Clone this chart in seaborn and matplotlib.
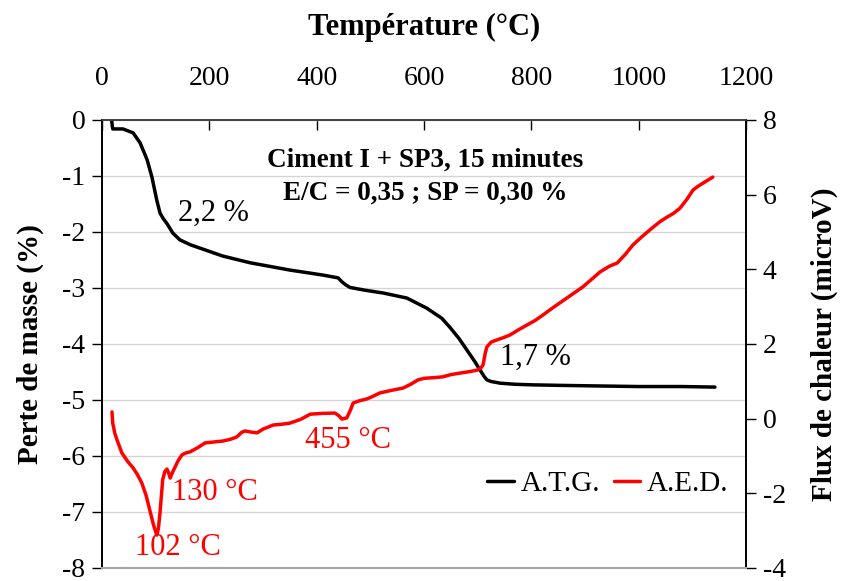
import matplotlib.pyplot as plt
import pandas as pd
import seaborn as sns

# A.T.G. (perte de masse, %)
atg_temp = [18, 19, 20, 39, 58, 71, 84, 93, 102, 108, 114, 121, 132, 145, 165,
            183, 225, 276, 350, 412, 440, 447, 455, 462, 490, 524, 568, 605, 633,
            648, 665, 680, 695, 704, 712, 717, 725, 742, 770, 803, 860, 928, 1000,
            1080, 1142]
atg_mass = [0, -0.1, -0.16, -0.16, -0.23, -0.41, -0.71, -1.02, -1.43, -1.66, -1.76,
            -1.85, -2.02, -2.14, -2.23, -2.29, -2.43, -2.55, -2.68, -2.77, -2.82,
            -2.89, -2.95, -2.99, -3.04, -3.09, -3.18, -3.36, -3.54, -3.70, -3.90,
            -4.11, -4.32, -4.46, -4.58, -4.64, -4.67, -4.70, -4.72, -4.73, -4.74,
            -4.75, -4.76, -4.76, -4.77]

# A.E.D. (flux de chaleur, microV)
aed_temp = [18.6, 20, 24, 28, 37, 48, 58, 66, 74, 82, 89, 96, 102, 105, 108, 111,
            113, 117, 121, 124, 127, 131, 136, 142, 149, 156, 164, 178, 192, 205,
            225, 240, 251, 260, 266, 278, 289, 300, 319, 335, 350, 370, 388, 410,
            434, 441, 447, 456, 462, 468, 480, 494, 505, 518, 540, 561, 575, 589,
            600, 620, 635, 650, 667, 685, 699, 706, 710, 714, 717, 725, 736, 748,
            760, 776, 792, 807, 822, 838, 853, 875, 896, 912, 928, 945, 960, 975,
            989, 1008, 1027, 1040, 1053, 1065, 1077, 1090, 1101, 1110, 1120, 1130,
            1138]
aed_flux = [0.18, -0.12, -0.40, -0.57, -0.92, -1.15, -1.32, -1.50, -1.72, -2.05,
            -2.45, -2.85, -3.12, -2.95, -2.53, -2.0, -1.64, -1.42, -1.35, -1.45,
            -1.59, -1.45, -1.30, -1.12, -0.97, -0.92, -0.89, -0.78, -0.65, -0.63,
            -0.60, -0.55, -0.49, -0.37, -0.33, -0.36, -0.38, -0.28, -0.17, -0.15,
            -0.12, -0.02, 0.12, 0.14, 0.15, 0.08, -0.01, 0.02, 0.2, 0.42, 0.48,
            0.53, 0.6, 0.69, 0.76, 0.82, 0.92, 1.04, 1.08, 1.1, 1.12, 1.18, 1.22,
            1.26, 1.30, 1.36, 1.44, 1.75, 1.92, 2.05, 2.11, 2.17, 2.24, 2.38, 2.51,
            2.63, 2.78, 2.95, 3.10, 3.32, 3.53, 3.73, 3.93, 4.08, 4.17, 4.40, 4.65,
            4.90, 5.13, 5.28, 5.40, 5.50, 5.64, 5.88, 6.12, 6.22, 6.31, 6.40, 6.47]

sns.set_theme(style="white")
plt.rcParams["font.family"] = ["Liberation Serif", "DejaVu Serif"]
plt.rcParams["axes.unicode_minus"] = False
plt.rcParams["text.color"] = "black"
plt.rcParams["axes.labelcolor"] = "black"

atg = pd.DataFrame({"temp": atg_temp, "val": atg_mass})
aed = pd.DataFrame({"temp": aed_temp, "val": aed_flux})

fig = plt.figure(figsize=(8.41, 5.81), dpi=100)
ax = fig.add_axes([0.1213, 0.0224, 0.7658, 0.7711])
ax2 = ax.twinx()

sns.lineplot(data=atg, x="temp", y="val", ax=ax, color="black", lw=2.5,
             sort=False, estimator=None, label="A.T.G.", legend=False)
sns.lineplot(data=aed, x="temp", y="val", ax=ax2, color="#ff0000", lw=2.5,
             sort=False, estimator=None, label="A.E.D.", legend=False)

ax.set_xlim(0, 1200)
ax.set_ylim(-8, 0)
ax2.set_ylim(-4, 8)
ax.set_xticks(range(0, 1201, 200))
ax.set_yticks(range(-8, 1))
ax2.set_yticks(range(-4, 9, 2))

ax.xaxis.tick_top()
ax.xaxis.set_label_position("top")
ax.tick_params(axis="x", direction="in", length=7, width=1, pad=21,
               labelsize=20, colors="black")
ax.tick_params(axis="y", direction="out", length=7, width=1, pad=5,
               labelsize=20, left=True, colors="black")
ax2.tick_params(axis="y", direction="out", length=7, width=1, pad=5,
                labelsize=20, right=True, colors="black")

ax.yaxis.grid(True, color="#d4d4d4", lw=1)
ax.xaxis.grid(False)
ax.set_axisbelow(True)

for a in (ax, ax2):
    a.spines["left"].set_color("black")
    a.spines["right"].set_color("black")
    a.spines["top"].set_color("#404040")
    a.spines["bottom"].set_color("#a6a6a6")
    a.spines["bottom"].set_linewidth(1.5)

ax.set_xlabel("Température (°C)", fontsize=22, fontweight="bold", labelpad=22)
ax.set_ylabel("Perte de masse (%)", fontsize=21, fontweight="bold", labelpad=13)
ax2.set_ylabel("Flux de chaleur (microV)", fontsize=21, fontweight="bold",
               labelpad=18)

ax.text(602, -0.71, "Ciment I + SP3, 15 minutes", fontsize=19.5,
        fontweight="bold", ha="center", va="center")
ax.text(602, -1.30, "E/C = 0,35 ; SP = 0,30 %", fontsize=19.5,
        fontweight="bold", ha="center", va="center")
ax.text(142, -1.66, "2,2 %", fontsize=22, ha="left", va="center")
ax.text(742, -4.23, "1,7 %", fontsize=22, ha="left", va="center")
ax.text(378, -5.73, "455 °C", fontsize=22, ha="left", va="center", color="#ff0000")
ax.text(130, -6.66, "130 °C", fontsize=22, ha="left", va="center", color="#ff0000")
ax.text(61, -7.64, "102 °C", fontsize=22, ha="left", va="center", color="#ff0000")

handles = ax.get_lines()[:1] + ax2.get_lines()[:1]
ax2.legend(handles, ["A.T.G.", "A.E.D."], loc="center right",
           bbox_to_anchor=(1.0, 0.1875), ncol=2, frameon=False, fontsize=21,
           handlelength=0.9, handletextpad=0.25, columnspacing=0.45,
           borderaxespad=0.2)

fig.savefig("out.png", dpi=100)
